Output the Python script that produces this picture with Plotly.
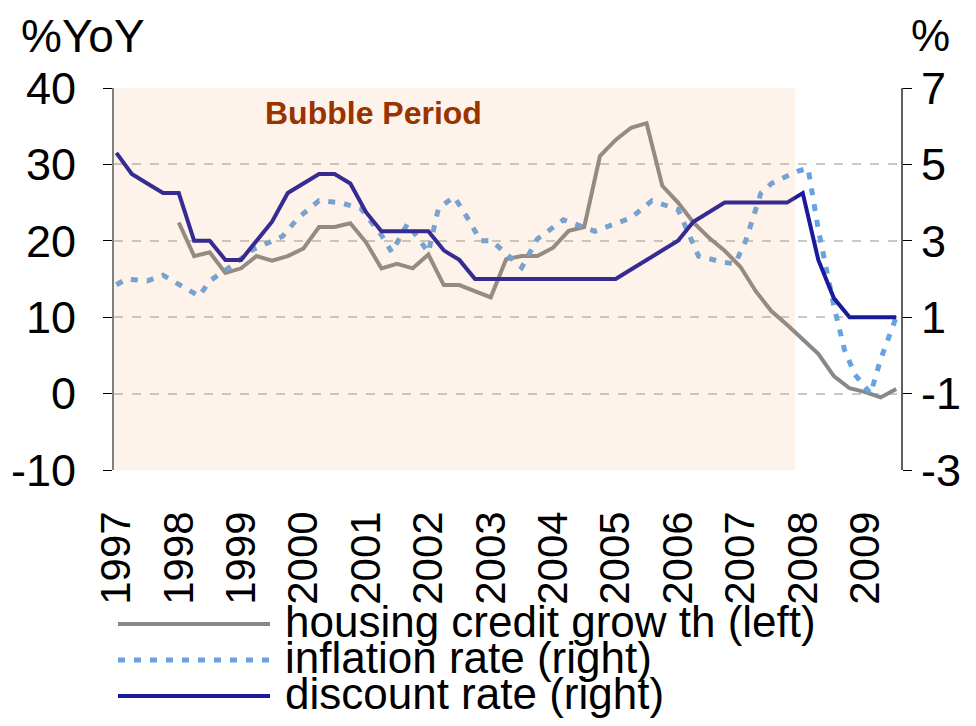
import plotly.graph_objects as go

# ---------------- data ----------------
# quarterly dates (first month of quarter)
quarters = [f"{y}-{m:02d}" for y in range(1997, 2010) for m in (1, 4, 7, 10)][:51]  # 1997Q1 .. 2009Q3

discount_rate = [5.3, 4.75, 4.5, 4.25,
                 4.25, 3.0, 3.0, 2.5,
                 2.5, 3.0, 3.5, 4.25,
                 4.5, 4.75, 4.75, 4.5,
                 3.75, 3.25, 3.25, 3.25,
                 3.25, 2.75, 2.5, 2.0,
                 2.0, 2.0, 2.0, 2.0,
                 2.0, 2.0, 2.0, 2.0,
                 2.0, 2.25, 2.5, 2.75,
                 3.0, 3.5, 3.75, 4.0,
                 4.0, 4.0, 4.0, 4.0,
                 4.25, 2.5, 1.5, 1.0,
                 1.0, 1.0, 1.0]

housing_quarters = quarters[4:]  # from 1998Q1
housing_credit = [22.4, 18.0, 18.5, 15.8,
                  16.4, 18.0, 17.4, 18.0,
                  19.0, 21.8, 21.8, 22.3,
                  19.8, 16.4, 17.0, 16.4,
                  18.2, 14.2, 14.2, 13.4,
                  12.6, 17.6, 18.0, 18.0,
                  19.1, 21.3, 21.8, 31.1,
                  33.2, 34.8, 35.4, 27.2,
                  25.0, 22.4, 20.4, 18.7,
                  16.6, 13.4, 10.8, 9.0,
                  7.0, 5.2, 2.3, 0.7,
                  0.2, -0.5, 0.6]

inflation_months = ["1997-01", "1997-03", "1997-07", "1997-10", "1998-05", "1998-07",
                    "1998-12", "1999-03", "1999-09", "1999-12", "2000-04", "2000-08",
                    "2000-12", "2001-04", "2001-06", "2001-09", "2002-01", "2002-03",
                    "2002-06", "2002-09", "2002-11", "2003-01", "2003-02", "2003-07",
                    "2003-10", "2004-03", "2004-09", "2005-04", "2005-08", "2006-01",
                    "2006-05", "2006-10", "2006-12", "2007-02", "2007-05", "2007-07",
                    "2007-12", "2008-02", "2008-04", "2008-07", "2008-09", "2008-11",
                    "2009-02", "2009-04", "2009-07"]
inflation_rate = [1.85, 2.0, 1.95, 2.1, 1.55, 1.95,
                  2.42, 2.75, 3.12, 3.6, 4.05, 4.0,
                  3.85, 3.15, 2.7, 3.45, 2.7, 3.85,
                  4.15, 3.5, 3.0, 3.0, 2.9, 2.3,
                  3.05, 3.55, 3.25, 3.6, 4.05, 3.82,
                  2.6, 2.43, 2.4, 3.0, 4.25, 4.5,
                  4.82, 4.9, 3.3, 1.3, 0.15, -0.5,
                  -1.0, -0.1, 1.0]

years = list(range(1997, 2010))
left_ticks = [-10, 0, 10, 20, 30, 40]
right_ticks = [-3, -1, 1, 3, 5, 7]
bubble_start, bubble_end = "1997-01-01", "2007-12-01"

left_range = [-10, 40]
right_range = [-3, 7]

# ---------------- styling ----------------
FONT = "Liberation Sans, Arial, sans-serif"
GRAY = "#888888"
LBLUE = "#66A3E0"
NAVY = "#1A1A9C"

# page body has an 8px margin: figure is sized so that it fits the 976x726 window
W, H, BODY = 960, 710, 8
PLOT_L, PLOT_R, PLOT_T, PLOT_B = 114, 901, 88, 470   # target plot area in window pixels


def mid(m):
    return m + "-15"


fig = go.Figure()
fig.add_trace(go.Scatter(x=[mid(q) for q in housing_quarters], y=housing_credit,
                         mode="lines", name="housing credit grow th (left)",
                         line=dict(color=GRAY, width=4), yaxis="y", showlegend=False))
fig.add_trace(go.Scatter(x=[mid(m) for m in inflation_months], y=inflation_rate,
                         mode="lines", name="inflation rate (right)",
                         line=dict(color=LBLUE, width=5, dash="7px,9px"), yaxis="y2",
                         showlegend=False))
fig.add_trace(go.Scatter(x=[mid(q) for q in quarters], y=discount_rate,
                         mode="lines", name="discount rate (right)",
                         line=dict(color=NAVY, width=4), yaxis="y2", showlegend=False))

x_range = ["1997-01-01", "2009-08-12"]

fig.update_layout(
    width=W, height=H,
    margin=dict(l=PLOT_L - BODY, r=W - (PLOT_R - BODY), t=PLOT_T - BODY,
                b=H - (PLOT_B - BODY), autoexpand=False),
    paper_bgcolor="white", plot_bgcolor="white",
    font=dict(family=FONT, color="black"),
    xaxis=dict(range=x_range, type="date", automargin=False,
               tickmode="array", tickvals=[f"{y}-01-16" for y in years],
               ticktext=[str(y) for y in years], tickangle=-90,
               tickfont=dict(size=42), ticks="", showline=False, showgrid=False,
               zeroline=False, ticklabelstandoff=32),
    xaxis2=dict(range=x_range, type="date", overlaying="x", anchor="free", automargin=False,
                position=(-5 - left_range[0]) / (left_range[1] - left_range[0]),
                side="bottom", showline=True, linecolor="#808080", linewidth=2,
                showticklabels=False, showgrid=False, zeroline=False,
                tickmode="array", tickvals=[f"{y}-01-01" for y in years],
                ticks="outside", ticklen=13, tickcolor="#333333", tickwidth=1.5,
                minor=dict(tickmode="array",
                           tickvals=[f"{y}-{m:02d}-01" for y in years for m in (4, 7, 10)],
                           ticks="outside", ticklen=8, tickcolor="#333333", tickwidth=1.5)),
    yaxis=dict(range=left_range, tickmode="array", tickvals=left_ticks,
               ticktext=[str(v) for v in left_ticks], automargin=False,
               showline=True, linecolor="#808080",
               linewidth=2, ticks="outside", ticklen=9, tickcolor="black",
               showgrid=True, gridcolor="#C8C8C8", griddash="dash", gridwidth=1.5,
               zeroline=False, tickfont=dict(size=45), ticklabelstandoff=18),
    yaxis2=dict(range=right_range, tickmode="array", tickvals=right_ticks,
                ticktext=[str(v) for v in right_ticks], automargin=False,
                overlaying="y", side="right",
                showline=True, linecolor="#606060", linewidth=2, ticks="outside",
                ticklen=9, tickcolor="black", showgrid=False, zeroline=False,
                tickfont=dict(size=45), ticklabelstandoff=0),
)

# Bubble period shading (semi-transparent, drawn above the lines like the original)
fig.add_shape(type="rect", xref="x", yref="paper", x0=bubble_start, x1=bubble_end,
              y0=0, y1=1, fillcolor="rgba(240,166,92,0.13)", line=dict(width=0),
              layer="above")

fig.add_annotation(x="2001-03-01", y=36.7, xref="x", yref="y", text="<b>Bubble Period</b>",
                   showarrow=False, font=dict(size=32, color="#993300", family=FONT))


# helpers: window pixel -> paper coordinates
def px_x(p):
    return (p - PLOT_L) / (PLOT_R - PLOT_L)


def px_y(p):
    return (PLOT_B - p) / (PLOT_B - PLOT_T)


# axis titles
fig.add_annotation(xref="paper", yref="paper", x=px_x(20), y=px_y(36),
                   xanchor="left", yanchor="middle", text="%YoY", showarrow=False,
                   font=dict(size=46), borderpad=0)
fig.add_annotation(xref="paper", yref="paper", x=px_x(930), y=px_y(36),
                   xanchor="center", yanchor="middle", text="%", showarrow=False,
                   font=dict(size=44), borderpad=0)

# legend (drawn manually to match the tight line spacing of the original)
legend_items = [("housing credit grow th (left)", GRAY, "solid", 4, 624),
                ("inflation rate (right)", LBLUE, "7px,9px", 5, 660),
                ("discount rate (right)", NAVY, "solid", 4, 696)]
for label, color, dash, w, ypx in legend_items:
    fig.add_shape(type="line", xref="paper", yref="paper",
                  x0=px_x(118), x1=px_x(270), y0=px_y(ypx), y1=px_y(ypx),
                  line=dict(color=color, width=w, dash=dash))
    fig.add_annotation(xref="paper", yref="paper", x=px_x(283), y=px_y(ypx - 3),
                       xanchor="left", yanchor="middle", text=label, showarrow=False,
                       font=dict(size=44))

fig.write_html("out.html")
